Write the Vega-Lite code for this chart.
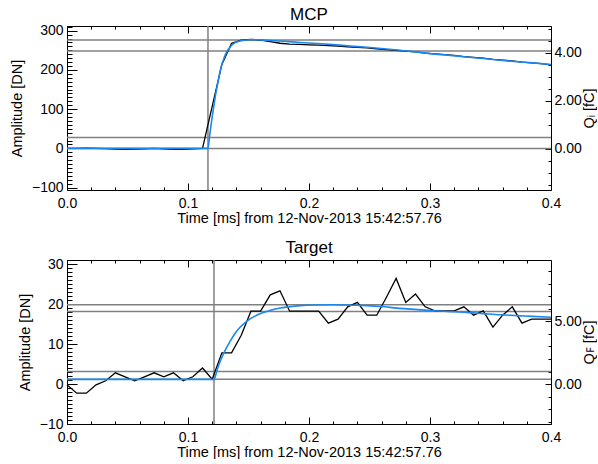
{
  "$schema": "https://vega.github.io/schema/vega-lite/v6.json",
  "padding": {"left": 8, "top": 5, "right": 0, "bottom": 0},
  "spacing": 13,
  "config": {
    "font": "Liberation Sans",
    "view": {"stroke": "black", "strokeWidth": 1},
    "axis": {"grid": false, "domain": false, "labelOverlap": false, "labelFlush": false, "tickColor": "black", "labelColor": "black", "titleColor": "black", "labelFontSize": 14, "titleFontSize": 14.5, "titleFontWeight": "normal", "tickWidth": 1},
    "title": {"fontSize": 17, "fontWeight": "normal", "color": "black", "offset": -4}
  },
  "datasets": {
    "mcp": [
      {"t": 0, "a": 0}, {"t": 0.008, "a": 0}, {"t": 0.016, "a": 0.5}, {"t": 0.024, "a": 0}, {"t": 0.032, "a": -0.5}, {"t": 0.04, "a": -1.5}, {"t": 0.048, "a": -2.5}, {"t": 0.056, "a": -2}, {"t": 0.064, "a": -1}, {"t": 0.072, "a": 0}, {"t": 0.08, "a": -1}, {"t": 0.088, "a": -2.5}, {"t": 0.096, "a": -2.5}, {"t": 0.104, "a": -1}, {"t": 0.112, "a": 0}, {"t": 0.12, "a": 107}, {"t": 0.128, "a": 214}, {"t": 0.136, "a": 268}, {"t": 0.144, "a": 276}, {"t": 0.152, "a": 278}, {"t": 0.16, "a": 276}, {"t": 0.168, "a": 272}, {"t": 0.176, "a": 268}, {"t": 0.184, "a": 266}, {"t": 0.192, "a": 265}, {"t": 0.2, "a": 264}, {"t": 0.208, "a": 263}, {"t": 0.216, "a": 262}, {"t": 0.224, "a": 261}, {"t": 0.232, "a": 259}, {"t": 0.24, "a": 257.5}, {"t": 0.248, "a": 256}, {"t": 0.256, "a": 254}, {"t": 0.264, "a": 252}, {"t": 0.272, "a": 250}, {"t": 0.28, "a": 248}, {"t": 0.288, "a": 246}, {"t": 0.296, "a": 243}, {"t": 0.304, "a": 241}, {"t": 0.312, "a": 239}, {"t": 0.32, "a": 237}, {"t": 0.328, "a": 234}, {"t": 0.336, "a": 232}, {"t": 0.344, "a": 230}, {"t": 0.352, "a": 227}, {"t": 0.36, "a": 225}, {"t": 0.368, "a": 223}, {"t": 0.376, "a": 220}, {"t": 0.384, "a": 218}, {"t": 0.392, "a": 216}, {"t": 0.4, "a": 213}
    ],
    "mcpfit": [
      {"t": 0, "a": 0}, {"t": 0.1165, "a": 0}, {"t": 0.118, "a": 35}, {"t": 0.1195, "a": 70}, {"t": 0.1212, "a": 105}, {"t": 0.123, "a": 140}, {"t": 0.125, "a": 172}, {"t": 0.1273, "a": 207}, {"t": 0.13, "a": 232}, {"t": 0.1322, "a": 247}, {"t": 0.135, "a": 259}, {"t": 0.1377, "a": 267}, {"t": 0.141, "a": 272}, {"t": 0.146, "a": 275.5}, {"t": 0.1515, "a": 277}, {"t": 0.158, "a": 276.8}, {"t": 0.165, "a": 275.5}, {"t": 0.179, "a": 273}, {"t": 0.193, "a": 270}, {"t": 0.207, "a": 267.5}, {"t": 0.22, "a": 264.5}, {"t": 0.234, "a": 261}, {"t": 0.248, "a": 257.7}, {"t": 0.262, "a": 254}, {"t": 0.2755, "a": 250}, {"t": 0.288, "a": 246}, {"t": 0.3, "a": 241.7}, {"t": 0.315, "a": 237.5}, {"t": 0.33, "a": 233}, {"t": 0.344, "a": 229}, {"t": 0.358, "a": 224.7}, {"t": 0.372, "a": 221}, {"t": 0.385, "a": 218}, {"t": 0.4, "a": 213.8}
    ],
    "mcph": [{"v": 0}, {"v": 27.5}, {"v": 248}, {"v": 276}],
    "mcpv": [{"t": 0.1165}],
    "tgt": [
      {"t": 0, "a": -0.2}, {"t": 0.008, "a": -2.3}, {"t": 0.016, "a": -2.3}, {"t": 0.024, "a": -0.2}, {"t": 0.032, "a": 0.8}, {"t": 0.04, "a": 2.8}, {"t": 0.048, "a": 1.8}, {"t": 0.056, "a": 0.8}, {"t": 0.064, "a": 1.8}, {"t": 0.072, "a": 2.8}, {"t": 0.08, "a": 1.8}, {"t": 0.088, "a": 2.8}, {"t": 0.096, "a": 0.8}, {"t": 0.104, "a": 1.8}, {"t": 0.112, "a": 4.0}, {"t": 0.12, "a": 1.2}, {"t": 0.128, "a": 7.8}, {"t": 0.136, "a": 7.8}, {"t": 0.144, "a": 12.2}, {"t": 0.152, "a": 18.2}, {"t": 0.16, "a": 18.2}, {"t": 0.168, "a": 22.3}, {"t": 0.176, "a": 23.3}, {"t": 0.184, "a": 18.2}, {"t": 0.192, "a": 18.2}, {"t": 0.2, "a": 18.2}, {"t": 0.208, "a": 18.2}, {"t": 0.216, "a": 15.2}, {"t": 0.224, "a": 16.2}, {"t": 0.232, "a": 19.3}, {"t": 0.24, "a": 20.4}, {"t": 0.248, "a": 17.2}, {"t": 0.256, "a": 17.2}, {"t": 0.264, "a": 21.7}, {"t": 0.272, "a": 26.4}, {"t": 0.28, "a": 20.4}, {"t": 0.288, "a": 22.5}, {"t": 0.296, "a": 19.3}, {"t": 0.304, "a": 18.3}, {"t": 0.312, "a": 18.3}, {"t": 0.32, "a": 18.3}, {"t": 0.328, "a": 19.3}, {"t": 0.336, "a": 17.2}, {"t": 0.344, "a": 18.3}, {"t": 0.352, "a": 14.2}, {"t": 0.36, "a": 17.2}, {"t": 0.368, "a": 19.3}, {"t": 0.376, "a": 15.2}, {"t": 0.384, "a": 16.2}, {"t": 0.392, "a": 16.2}, {"t": 0.4, "a": 16.2}
    ],
    "tgtfit": [
      {"t": 0, "a": 1.15}, {"t": 0.1215, "a": 1.15}, {"t": 0.124, "a": 3.5}, {"t": 0.1268, "a": 5.8}, {"t": 0.131, "a": 8.6}, {"t": 0.135, "a": 10.8}, {"t": 0.139, "a": 12.7}, {"t": 0.143, "a": 14.2}, {"t": 0.147, "a": 15.3}, {"t": 0.151, "a": 16.2}, {"t": 0.155, "a": 16.9}, {"t": 0.159, "a": 17.5}, {"t": 0.167, "a": 18.3}, {"t": 0.176, "a": 19.0}, {"t": 0.184, "a": 19.3}, {"t": 0.193, "a": 19.6}, {"t": 0.205, "a": 19.75}, {"t": 0.22, "a": 19.8}, {"t": 0.235, "a": 19.7}, {"t": 0.248, "a": 19.6}, {"t": 0.262, "a": 19.3}, {"t": 0.275, "a": 18.9}, {"t": 0.29, "a": 18.6}, {"t": 0.303, "a": 18.3}, {"t": 0.317, "a": 18.1}, {"t": 0.33, "a": 17.9}, {"t": 0.344, "a": 17.6}, {"t": 0.358, "a": 17.3}, {"t": 0.372, "a": 17.1}, {"t": 0.385, "a": 16.9}, {"t": 0.4, "a": 16.7}
    ],
    "tgth": [{"v": 1.2}, {"v": 3.1}, {"v": 18.1}, {"v": 19.8}],
    "tgtv": [{"t": 0.1215}]
  },
  "vconcat": [
    {
      "title": {"text": "MCP"},
      "width": 484,
      "height": 164,
      "layer": [
        {
          "layer": [
            {
              "data": {"name": "mcph"},
              "mark": {"type": "rule", "color": "#808080", "strokeWidth": 1.5},
              "encoding": {
                "y": {"field": "v", "type": "quantitative", "title": "Amplitude [DN]",
                  "scale": {"domain": [-106, 312], "nice": false, "zero": false},
                  "axis": {"orient": "left", "offset": -10, "tickSize": 10, "labelOverlap": false,
                    "values": [-100,-90,-80,-70,-60,-50,-40,-30,-20,-10,0,10,20,30,40,50,60,70,80,90,100,110,120,130,140,150,160,170,180,190,200,210,220,230,240,250,260,270,280,290,300,310],
                    "labelExpr": "datum.value % 100 == 0 ? format(datum.value, 'd') : ''",
                    "tickDash": {"condition": {"test": "datum.value % 100 == 0", "value": [20, 0]}, "value": [0, 5, 5, 20]},
                    "labelPadding": 4, "titlePadding": 7}}
              }
            },
            {
              "data": {"name": "mcpv"},
              "mark": {"type": "rule", "color": "#808080", "strokeWidth": 1.5},
              "encoding": {"x": {"field": "t", "type": "quantitative", "title": "Time [ms] from 12-Nov-2013 15:42:57.76",
                  "axis": {"orient": "bottom", "offset": -7, "tickSize": 7, "labelOverlap": false,
                    "values": [0,0.02,0.04,0.06,0.08,0.1,0.12,0.14,0.16,0.18,0.2,0.22,0.24,0.26,0.28,0.3,0.32,0.34,0.36,0.38,0.4],
                    "labelExpr": "round(datum.value*100) % 10 == 0 ? format(datum.value, '.1f') : ''",
                    "tickDash": {"condition": {"test": "round(datum.value*100) % 10 == 0", "value": [20, 0]}, "value": [0, 4, 3, 20]},
                    "labelPadding": 6, "titlePadding": 1}}}
            },
            {
              "data": {"name": "mcp"},
              "mark": {"type": "line", "color": "black", "strokeWidth": 1.3},
              "encoding": {
                "x": {"field": "t", "type": "quantitative", "title": "Time [ms] from 12-Nov-2013 15:42:57.76",
                  "scale": {"domain": [0, 0.4], "nice": false, "zero": false},
                  "axis": {"orient": "bottom", "offset": -7, "tickSize": 7, "labelOverlap": false,
                    "values": [0,0.02,0.04,0.06,0.08,0.1,0.12,0.14,0.16,0.18,0.2,0.22,0.24,0.26,0.28,0.3,0.32,0.34,0.36,0.38,0.4],
                    "labelExpr": "round(datum.value*100) % 10 == 0 ? format(datum.value, '.1f') : ''",
                    "tickDash": {"condition": {"test": "round(datum.value*100) % 10 == 0", "value": [20, 0]}, "value": [0, 4, 3, 20]},
                    "labelPadding": 6, "titlePadding": 1}},
                "y": {"field": "a", "type": "quantitative", "title": "Amplitude [DN]",
                  "axis": {"orient": "left", "offset": -10, "tickSize": 10, "labelOverlap": false,
                    "values": [-100,-90,-80,-70,-60,-50,-40,-30,-20,-10,0,10,20,30,40,50,60,70,80,90,100,110,120,130,140,150,160,170,180,190,200,210,220,230,240,250,260,270,280,290,300,310],
                    "labelExpr": "datum.value % 100 == 0 ? format(datum.value, 'd') : ''",
                    "tickDash": {"condition": {"test": "datum.value % 100 == 0", "value": [20, 0]}, "value": [0, 5, 5, 20]},
                    "labelPadding": 4, "titlePadding": 7}}
              }
            },
            {
              "data": {"name": "mcpfit"},
              "mark": {"type": "line", "color": "#1a88f0", "strokeWidth": 1.6, "interpolate": "monotone"},
              "encoding": {
                "x": {"field": "t", "type": "quantitative", "title": "Time [ms] from 12-Nov-2013 15:42:57.76",
                  "axis": {"orient": "bottom", "offset": -7, "tickSize": 7, "labelOverlap": false,
                    "values": [0,0.02,0.04,0.06,0.08,0.1,0.12,0.14,0.16,0.18,0.2,0.22,0.24,0.26,0.28,0.3,0.32,0.34,0.36,0.38,0.4],
                    "labelExpr": "round(datum.value*100) % 10 == 0 ? format(datum.value, '.1f') : ''",
                    "tickDash": {"condition": {"test": "round(datum.value*100) % 10 == 0", "value": [20, 0]}, "value": [0, 4, 3, 20]},
                    "labelPadding": 6, "titlePadding": 1}},
                "y": {"field": "a", "type": "quantitative", "title": "Amplitude [DN]",
                  "axis": {"orient": "left", "offset": -10, "tickSize": 10, "labelOverlap": false,
                    "values": [-100,-90,-80,-70,-60,-50,-40,-30,-20,-10,0,10,20,30,40,50,60,70,80,90,100,110,120,130,140,150,160,170,180,190,200,210,220,230,240,250,260,270,280,290,300,310],
                    "labelExpr": "datum.value % 100 == 0 ? format(datum.value, 'd') : ''",
                    "tickDash": {"condition": {"test": "datum.value % 100 == 0", "value": [20, 0]}, "value": [0, 5, 5, 20]},
                    "labelPadding": 4, "titlePadding": 7}}
              }
            }
          ]
        },
        {
          "data": {"values": [{"q": 0}]},
          "mark": {"type": "rule", "opacity": 0},
          "encoding": {
            "x": {"datum": 0, "type": "quantitative",
              "axis": {"orient": "top", "title": null, "labels": false, "offset": -7, "tickSize": 7,
                "values": [0,0.02,0.04,0.06,0.08,0.1,0.12,0.14,0.16,0.18,0.2,0.22,0.24,0.26,0.28,0.3,0.32,0.34,0.36,0.38,0.4],
                "tickDash": {"condition": {"test": "round(datum.value*100) % 10 == 0", "value": [20, 0]}, "value": [0, 4, 3, 20]}}},
            "y": {"field": "q", "type": "quantitative",
              "scale": {"domain": [-1.72, 5.11], "nice": false, "zero": false},
              "axis": {"title": "Qᵢ [fC]", "orient": "right", "offset": -6, "tickSize": 6, "labelOverlap": false,
                "values": [-1.5,-1,-0.5,0,0.5,1,1.5,2,2.5,3,3.5,4,4.5,5],
                "labelExpr": "datum.value % 2 == 0 ? format(datum.value, '.2f') : ''",
                "tickDash": {"condition": {"test": "datum.value % 2 == 0", "value": [20, 0]}, "value": [0, 3, 3, 20]},
                "labelPadding": 3, "titlePadding": 15, "titleAngle": 270}}
          }
        }
      ],
      "resolve": {"scale": {"y": "independent"}, "axis": {"x": "independent"}}
    },
    {
      "title": {"text": "Target"},
      "width": 484,
      "height": 164,
      "layer": [
        {
          "layer": [
            {
              "data": {"name": "tgth"},
              "mark": {"type": "rule", "color": "#808080", "strokeWidth": 1.5},
              "encoding": {
                "y": {"field": "v", "type": "quantitative", "title": "Amplitude [DN]",
                  "scale": {"domain": [-10, 31], "nice": false, "zero": false},
                  "axis": {"orient": "left", "offset": -10, "tickSize": 10, "labelOverlap": false,
                    "values": [-10,-9,-8,-7,-6,-5,-4,-3,-2,-1,0,1,2,3,4,5,6,7,8,9,10,11,12,13,14,15,16,17,18,19,20,21,22,23,24,25,26,27,28,29,30,31],
                    "labelExpr": "datum.value % 10 == 0 ? format(datum.value, 'd') : ''",
                    "tickDash": {"condition": {"test": "datum.value % 10 == 0", "value": [20, 0]}, "value": [0, 5, 5, 20]},
                    "labelPadding": 4, "titlePadding": 7}}
              }
            },
            {
              "data": {"name": "tgtv"},
              "mark": {"type": "rule", "color": "#808080", "strokeWidth": 1.5},
              "encoding": {"x": {"field": "t", "type": "quantitative", "title": "Time [ms] from 12-Nov-2013 15:42:57.76",
                  "axis": {"orient": "bottom", "offset": -7, "tickSize": 7, "labelOverlap": false,
                    "values": [0,0.02,0.04,0.06,0.08,0.1,0.12,0.14,0.16,0.18,0.2,0.22,0.24,0.26,0.28,0.3,0.32,0.34,0.36,0.38,0.4],
                    "labelExpr": "round(datum.value*100) % 10 == 0 ? format(datum.value, '.1f') : ''",
                    "tickDash": {"condition": {"test": "round(datum.value*100) % 10 == 0", "value": [20, 0]}, "value": [0, 4, 3, 20]},
                    "labelPadding": 6, "titlePadding": 1}}}
            },
            {
              "data": {"name": "tgt"},
              "mark": {"type": "line", "color": "black", "strokeWidth": 1.3},
              "encoding": {
                "x": {"field": "t", "type": "quantitative", "title": "Time [ms] from 12-Nov-2013 15:42:57.76",
                  "scale": {"domain": [0, 0.4], "nice": false, "zero": false},
                  "axis": {"orient": "bottom", "offset": -7, "tickSize": 7, "labelOverlap": false,
                    "values": [0,0.02,0.04,0.06,0.08,0.1,0.12,0.14,0.16,0.18,0.2,0.22,0.24,0.26,0.28,0.3,0.32,0.34,0.36,0.38,0.4],
                    "labelExpr": "round(datum.value*100) % 10 == 0 ? format(datum.value, '.1f') : ''",
                    "tickDash": {"condition": {"test": "round(datum.value*100) % 10 == 0", "value": [20, 0]}, "value": [0, 4, 3, 20]},
                    "labelPadding": 6, "titlePadding": 1}},
                "y": {"field": "a", "type": "quantitative", "title": "Amplitude [DN]",
                  "axis": {"orient": "left", "offset": -10, "tickSize": 10, "labelOverlap": false,
                    "values": [-10,-9,-8,-7,-6,-5,-4,-3,-2,-1,0,1,2,3,4,5,6,7,8,9,10,11,12,13,14,15,16,17,18,19,20,21,22,23,24,25,26,27,28,29,30,31],
                    "labelExpr": "datum.value % 10 == 0 ? format(datum.value, 'd') : ''",
                    "tickDash": {"condition": {"test": "datum.value % 10 == 0", "value": [20, 0]}, "value": [0, 5, 5, 20]},
                    "labelPadding": 4, "titlePadding": 7}}
              }
            },
            {
              "data": {"name": "tgtfit"},
              "mark": {"type": "line", "color": "#1a88f0", "strokeWidth": 1.6, "interpolate": "monotone"},
              "encoding": {
                "x": {"field": "t", "type": "quantitative", "title": "Time [ms] from 12-Nov-2013 15:42:57.76",
                  "axis": {"orient": "bottom", "offset": -7, "tickSize": 7, "labelOverlap": false,
                    "values": [0,0.02,0.04,0.06,0.08,0.1,0.12,0.14,0.16,0.18,0.2,0.22,0.24,0.26,0.28,0.3,0.32,0.34,0.36,0.38,0.4],
                    "labelExpr": "round(datum.value*100) % 10 == 0 ? format(datum.value, '.1f') : ''",
                    "tickDash": {"condition": {"test": "round(datum.value*100) % 10 == 0", "value": [20, 0]}, "value": [0, 4, 3, 20]},
                    "labelPadding": 6, "titlePadding": 1}},
                "y": {"field": "a", "type": "quantitative", "title": "Amplitude [DN]",
                  "axis": {"orient": "left", "offset": -10, "tickSize": 10, "labelOverlap": false,
                    "values": [-10,-9,-8,-7,-6,-5,-4,-3,-2,-1,0,1,2,3,4,5,6,7,8,9,10,11,12,13,14,15,16,17,18,19,20,21,22,23,24,25,26,27,28,29,30,31],
                    "labelExpr": "datum.value % 10 == 0 ? format(datum.value, 'd') : ''",
                    "tickDash": {"condition": {"test": "datum.value % 10 == 0", "value": [20, 0]}, "value": [0, 5, 5, 20]},
                    "labelPadding": 4, "titlePadding": 7}}
              }
            }
          ]
        },
        {
          "data": {"values": [{"q": 0}]},
          "mark": {"type": "rule", "opacity": 0},
          "encoding": {
            "x": {"datum": 0, "type": "quantitative",
              "axis": {"orient": "top", "title": null, "labels": false, "offset": -7, "tickSize": 7,
                "values": [0,0.02,0.04,0.06,0.08,0.1,0.12,0.14,0.16,0.18,0.2,0.22,0.24,0.26,0.28,0.3,0.32,0.34,0.36,0.38,0.4],
                "tickDash": {"condition": {"test": "round(datum.value*100) % 10 == 0", "value": [20, 0]}, "value": [0, 4, 3, 20]}}},
            "y": {"field": "q", "type": "quantitative",
              "scale": {"domain": [-3.19, 9.9], "nice": false, "zero": false},
              "axis": {"title": "Qꜰ [fC]", "orient": "right", "offset": -6, "tickSize": 6, "labelOverlap": false,
                "values": [-3,-2,-1,0,1,2,3,4,5,6,7,8,9],
                "labelExpr": "datum.value % 5 == 0 ? format(datum.value, '.2f') : ''",
                "tickDash": {"condition": {"test": "datum.value % 5 == 0", "value": [20, 0]}, "value": [0, 3, 3, 20]},
                "labelPadding": 3, "titlePadding": 15, "titleAngle": 270}}
          }
        }
      ],
      "resolve": {"scale": {"y": "independent"}, "axis": {"x": "independent"}}
    }
  ]
}
